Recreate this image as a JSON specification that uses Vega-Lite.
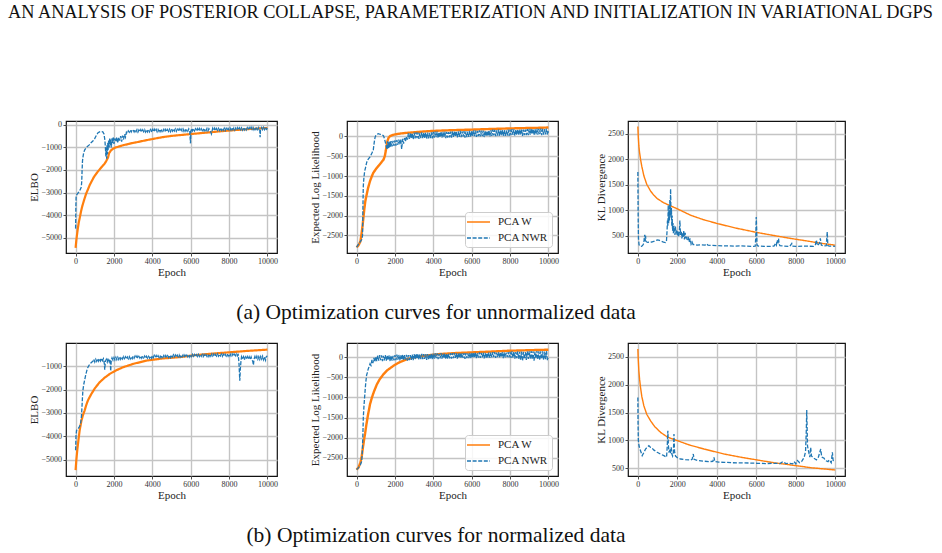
{
  "$schema": "https://vega.github.io/schema/vega-lite/v6.json",
  "background": "white",
  "padding": {"left": 8, "top": 2, "right": 10, "bottom": 5},
  "title": {"text": "AN ANALYSIS OF POSTERIOR COLLAPSE, PARAMETERIZATION AND INITIALIZATION IN VARIATIONAL DGPS", "anchor": "start", "frame": "group", "dx": -58, "offset": 98, "font": "Liberation Serif", "fontSize": 18.3, "fontWeight": "normal", "color": "#111"},
  "config": {
    "view": {"stroke": "#111", "strokeWidth": 1.2},
    "axis": {"domain": false, "grid": true, "gridColor": "#c4c4c4", "gridWidth": 1.4, "tickColor": "#222", "tickSize": 3, "tickWidth": 0.8, "labelFont": "Liberation Serif", "labelFontSize": 8, "labelColor": "#333", "labelPadding": 1.5, "labelFlush": false, "titleFont": "Liberation Serif", "titleFontSize": 11, "titleFontWeight": "normal", "titleColor": "#222", "titlePadding": 1},
    "legend": {"orient": "bottom-right", "offset": 6, "symbolType": "M-2.3,0H2.3", "symbolSize": 100, "symbolStrokeWidth": 1.5, "symbolOffset": 3.5, "labelOffset": 13.5, "labelFont": "Liberation Serif", "labelFontSize": 11, "labelColor": "#222", "fillColor": "rgba(255,255,255,0.85)", "strokeColor": "#cccccc", "cornerRadius": 3, "padding": 4, "rowPadding": 5},
    "line": {"clip": true}
  },
  "columns": 3,
  "spacing": {"row": 90, "column": 70},
  "bounds": "flush",
  "resolve": {"scale": {"color": "independent", "strokeDash": "independent", "x": "independent", "y": "independent"}, "legend": {"color": "independent", "strokeDash": "independent"}},
  "datasets": {
    "p1": [
      {"s":"PCA W","x":0,"y":-5450},{"s":"PCA W","x":40,"y":-5100},{"s":"PCA W","x":100,"y":-4700},{"s":"PCA W","x":160,"y":-4350},{"s":"PCA W","x":210,"y":-4150},{"s":"PCA W","x":280,"y":-3850},{"s":"PCA W","x":350,"y":-3600},{"s":"PCA W","x":420,"y":-3400},{"s":"PCA W","x":470,"y":-3260},{"s":"PCA W","x":550,"y":-3050},{"s":"PCA W","x":650,"y":-2850},{"s":"PCA W","x":730,"y":-2680},{"s":"PCA W","x":850,"y":-2480},{"s":"PCA W","x":950,"y":-2320},{"s":"PCA W","x":1080,"y":-2160},{"s":"PCA W","x":1200,"y":-2030},{"s":"PCA W","x":1300,"y":-1930},{"s":"PCA W","x":1400,"y":-1830},{"s":"PCA W","x":1515,"y":-1720},{"s":"PCA W","x":1600,"y":-1600},{"s":"PCA W","x":1690,"y":-1450},{"s":"PCA W","x":1750,"y":-1250},{"s":"PCA W","x":1850,"y":-1130},{"s":"PCA W","x":1950,"y":-1060},{"s":"PCA W","x":2100,"y":-1000},{"s":"PCA W","x":2300,"y":-950},{"s":"PCA W","x":2500,"y":-900},{"s":"PCA W","x":2750,"y":-850},{"s":"PCA W","x":3000,"y":-800},{"s":"PCA W","x":3250,"y":-760},{"s":"PCA W","x":3500,"y":-715},{"s":"PCA W","x":3750,"y":-670},{"s":"PCA W","x":4000,"y":-630},{"s":"PCA W","x":4500,"y":-550},{"s":"PCA W","x":5000,"y":-490},{"s":"PCA W","x":5500,"y":-450},{"s":"PCA W","x":6000,"y":-410},{"s":"PCA W","x":6500,"y":-370},{"s":"PCA W","x":7000,"y":-330},{"s":"PCA W","x":7500,"y":-290},{"s":"PCA W","x":8000,"y":-255},{"s":"PCA W","x":8500,"y":-220},{"s":"PCA W","x":9000,"y":-190},{"s":"PCA W","x":9500,"y":-165},{"s":"PCA W","x":10000,"y":-140},
      {"s":"PCA NWR","x":0,"y":-4600},{"s":"PCA NWR","x":15,"y":-3600},{"s":"PCA NWR","x":30,"y":-3150},{"s":"PCA NWR","x":60,"y":-3100},{"s":"PCA NWR","x":100,"y":-3050},{"s":"PCA NWR","x":150,"y":-3000},{"s":"PCA NWR","x":200,"y":-2950},{"s":"PCA NWR","x":250,"y":-2850},{"s":"PCA NWR","x":300,"y":-2750},{"s":"PCA NWR","x":320,"y":-2500},{"s":"PCA NWR","x":340,"y":-2000},{"s":"PCA NWR","x":360,"y":-1600},{"s":"PCA NWR","x":380,"y":-1450},{"s":"PCA NWR","x":420,"y":-1250},{"s":"PCA NWR","x":470,"y":-1120},{"s":"PCA NWR","x":560,"y":-1000},{"s":"PCA NWR","x":700,"y":-900},{"s":"PCA NWR","x":820,"y":-780},{"s":"PCA NWR","x":900,"y":-720},{"s":"PCA NWR","x":990,"y":-620},{"s":"PCA NWR","x":1080,"y":-470},{"s":"PCA NWR","x":1170,"y":-350},{"s":"PCA NWR","x":1250,"y":-310},{"s":"PCA NWR","x":1340,"y":-300},{"s":"PCA NWR","x":1420,"y":-310},{"s":"PCA NWR","x":1480,"y":-400},{"s":"PCA NWR","x":1530,"y":-700},{"s":"PCA NWR","x":1560,"y":-1100},{"s":"PCA NWR","x":1580,"y":-1400},{"s":"PCA NWR","x":1600,"y":-1000},{"s":"PCA NWR","x":1620,"y":-1500},{"s":"PCA NWR","x":1640,"y":-900},{"s":"PCA NWR","x":1660,"y":-1300},{"s":"PCA NWR","x":1680,"y":-800},{"s":"PCA NWR","x":1700,"y":-1100},{"s":"PCA NWR","x":1720,"y":-700},{"s":"PCA NWR","x":1750,"y":-1000},{"s":"PCA NWR","x":1780,"y":-600},{"s":"PCA NWR","x":1800,"y":-900},{"s":"PCA NWR","x":1830,"y":-650},{"s":"PCA NWR","x":1860,"y":-1000},{"s":"PCA NWR","x":1900,"y":-600},{"s":"PCA NWR","x":1930,"y":-800},{"s":"PCA NWR","x":1960,"y":-550},{"s":"PCA NWR","x":2000,"y":-850},{"s":"PCA NWR","x":2050,"y":-600},{"s":"PCA NWR","x":2100,"y":-750},{"s":"PCA NWR","x":2150,"y":-550},{"s":"PCA NWR","x":2200,"y":-800},{"s":"PCA NWR","x":2250,"y":-550},{"s":"PCA NWR","x":2300,"y":-700},{"s":"PCA NWR","x":2350,"y":-500},{"s":"PCA NWR","x":2400,"y":-750},{"s":"PCA NWR","x":2450,"y":-480},{"s":"PCA NWR","x":2500,"y":-650},{"s":"PCA NWR","x":2550,"y":-420},{"s":"PCA NWR","x":2600,"y":-550},{"s":"PCA NWR","x":2650,"y":-330},{"s":"PCA NWR","x":2700,"y":-380},{"s":"PCA NWR","x":2750,"y":-270},{"s":"PCA NWR","x":2800,"y":-330},{"s":"PCA NWR","x":2850,"y":-230},{"s":"PCA NWR","x":2900,"y":-320},{"s":"PCA NWR","x":2950,"y":-225},
      {"s":"PCA NWR","x":3000,"y":-220},{"s":"PCA NWR","x":3050,"y":-315},{"s":"PCA NWR","x":3100,"y":-210},{"s":"PCA NWR","x":3150,"y":-305},{"s":"PCA NWR","x":3200,"y":-215},{"s":"PCA NWR","x":3250,"y":-320},{"s":"PCA NWR","x":3300,"y":-225},{"s":"PCA NWR","x":3350,"y":-310},{"s":"PCA NWR","x":3400,"y":-210},{"s":"PCA NWR","x":3450,"y":-315},{"s":"PCA NWR","x":3500,"y":-220},{"s":"PCA NWR","x":3550,"y":-305},{"s":"PCA NWR","x":3600,"y":-215},{"s":"PCA NWR","x":3650,"y":-320},{"s":"PCA NWR","x":3700,"y":-220},{"s":"PCA NWR","x":3750,"y":-315},{"s":"PCA NWR","x":3800,"y":-225},{"s":"PCA NWR","x":3850,"y":-310},{"s":"PCA NWR","x":3900,"y":-210},{"s":"PCA NWR","x":3950,"y":-315},
      {"s":"PCA NWR","x":4000,"y":-205},{"s":"PCA NWR","x":4050,"y":-300},{"s":"PCA NWR","x":4100,"y":-195},{"s":"PCA NWR","x":4150,"y":-290},{"s":"PCA NWR","x":4200,"y":-200},{"s":"PCA NWR","x":4250,"y":-305},{"s":"PCA NWR","x":4300,"y":-210},{"s":"PCA NWR","x":4350,"y":-295},{"s":"PCA NWR","x":4400,"y":-195},{"s":"PCA NWR","x":4450,"y":-300},{"s":"PCA NWR","x":4500,"y":-205},{"s":"PCA NWR","x":4550,"y":-290},{"s":"PCA NWR","x":4600,"y":-200},{"s":"PCA NWR","x":4650,"y":-305},{"s":"PCA NWR","x":4700,"y":-205},{"s":"PCA NWR","x":4750,"y":-300},{"s":"PCA NWR","x":4800,"y":-210},{"s":"PCA NWR","x":4850,"y":-295},{"s":"PCA NWR","x":4900,"y":-195},{"s":"PCA NWR","x":4950,"y":-300},
      {"s":"PCA NWR","x":5000,"y":-187},{"s":"PCA NWR","x":5050,"y":-282},{"s":"PCA NWR","x":5100,"y":-177},{"s":"PCA NWR","x":5150,"y":-272},{"s":"PCA NWR","x":5200,"y":-182},{"s":"PCA NWR","x":5250,"y":-287},{"s":"PCA NWR","x":5300,"y":-192},{"s":"PCA NWR","x":5350,"y":-277},{"s":"PCA NWR","x":5400,"y":-177},{"s":"PCA NWR","x":5450,"y":-282},{"s":"PCA NWR","x":5500,"y":-187},{"s":"PCA NWR","x":5550,"y":-272},{"s":"PCA NWR","x":5600,"y":-182},{"s":"PCA NWR","x":5650,"y":-287},{"s":"PCA NWR","x":5700,"y":-187},{"s":"PCA NWR","x":5750,"y":-282},{"s":"PCA NWR","x":5800,"y":-192},{"s":"PCA NWR","x":5850,"y":-277},{"s":"PCA NWR","x":5900,"y":-177},{"s":"PCA NWR","x":5950,"y":-282},{"s":"PCA NWR","x":5990,"y":-820},{"s":"PCA NWR","x":6010,"y":-300},
      {"s":"PCA NWR","x":6050,"y":-160},{"s":"PCA NWR","x":6100,"y":-265},{"s":"PCA NWR","x":6150,"y":-175},{"s":"PCA NWR","x":6200,"y":-270},{"s":"PCA NWR","x":6250,"y":-175},{"s":"PCA NWR","x":6300,"y":-260},{"s":"PCA NWR","x":6350,"y":-170},{"s":"PCA NWR","x":6400,"y":-270},{"s":"PCA NWR","x":6450,"y":-160},{"s":"PCA NWR","x":6500,"y":-265},{"s":"PCA NWR","x":6550,"y":-170},{"s":"PCA NWR","x":6600,"y":-255},{"s":"PCA NWR","x":6650,"y":-165},{"s":"PCA NWR","x":6700,"y":-270},{"s":"PCA NWR","x":6750,"y":-175},{"s":"PCA NWR","x":6800,"y":-260},{"s":"PCA NWR","x":6850,"y":-160},{"s":"PCA NWR","x":6900,"y":-265},{"s":"PCA NWR","x":6950,"y":-170},{"s":"PCA NWR","x":7000,"y":-250},{"s":"PCA NWR","x":7040,"y":-300},{"s":"PCA NWR","x":7080,"y":-400},{"s":"PCA NWR","x":7120,"y":-260},
      {"s":"PCA NWR","x":7150,"y":-150},{"s":"PCA NWR","x":7200,"y":-238},{"s":"PCA NWR","x":7250,"y":-148},{"s":"PCA NWR","x":7300,"y":-253},{"s":"PCA NWR","x":7350,"y":-158},{"s":"PCA NWR","x":7400,"y":-243},{"s":"PCA NWR","x":7450,"y":-153},{"s":"PCA NWR","x":7500,"y":-248},{"s":"PCA NWR","x":7550,"y":-143},{"s":"PCA NWR","x":7600,"y":-248},{"s":"PCA NWR","x":7650,"y":-153},{"s":"PCA NWR","x":7700,"y":-238},{"s":"PCA NWR","x":7750,"y":-148},{"s":"PCA NWR","x":7800,"y":-253},{"s":"PCA NWR","x":7850,"y":-153},{"s":"PCA NWR","x":7900,"y":-248},{"s":"PCA NWR","x":7950,"y":-158},
      {"s":"PCA NWR","x":8000,"y":-225},{"s":"PCA NWR","x":8050,"y":-135},{"s":"PCA NWR","x":8100,"y":-230},{"s":"PCA NWR","x":8150,"y":-125},{"s":"PCA NWR","x":8200,"y":-220},{"s":"PCA NWR","x":8250,"y":-130},{"s":"PCA NWR","x":8300,"y":-235},{"s":"PCA NWR","x":8350,"y":-140},{"s":"PCA NWR","x":8400,"y":-225},{"s":"PCA NWR","x":8450,"y":-125},{"s":"PCA NWR","x":8500,"y":-230},{"s":"PCA NWR","x":8550,"y":-135},{"s":"PCA NWR","x":8600,"y":-220},{"s":"PCA NWR","x":8650,"y":-130},{"s":"PCA NWR","x":8700,"y":-235},{"s":"PCA NWR","x":8750,"y":-135},{"s":"PCA NWR","x":8800,"y":-230},{"s":"PCA NWR","x":8850,"y":-140},{"s":"PCA NWR","x":8900,"y":-225},{"s":"PCA NWR","x":8950,"y":-125},
      {"s":"PCA NWR","x":9000,"y":-212},{"s":"PCA NWR","x":9050,"y":-117},{"s":"PCA NWR","x":9100,"y":-207},{"s":"PCA NWR","x":9150,"y":-107},{"s":"PCA NWR","x":9200,"y":-202},{"s":"PCA NWR","x":9250,"y":-112},{"s":"PCA NWR","x":9300,"y":-217},{"s":"PCA NWR","x":9350,"y":-122},{"s":"PCA NWR","x":9400,"y":-207},{"s":"PCA NWR","x":9450,"y":-107},{"s":"PCA NWR","x":9500,"y":-212},{"s":"PCA NWR","x":9550,"y":-117},{"s":"PCA NWR","x":9600,"y":-200},{"s":"PCA NWR","x":9620,"y":-550},{"s":"PCA NWR","x":9640,"y":-210},{"s":"PCA NWR","x":9700,"y":-117},{"s":"PCA NWR","x":9750,"y":-212},{"s":"PCA NWR","x":9800,"y":-112},{"s":"PCA NWR","x":9850,"y":-207},{"s":"PCA NWR","x":9900,"y":-107},{"s":"PCA NWR","x":9950,"y":-200},{"s":"PCA NWR","x":10000,"y":-150}
    ],
    "p2": [
      {"s":"PCA W","x":0,"y":-2800},{"s":"PCA W","x":100,"y":-2750},{"s":"PCA W","x":200,"y":-2650},{"s":"PCA W","x":260,"y":-2450},{"s":"PCA W","x":300,"y":-2300},{"s":"PCA W","x":350,"y":-2080},{"s":"PCA W","x":400,"y":-1850},{"s":"PCA W","x":450,"y":-1650},{"s":"PCA W","x":520,"y":-1480},{"s":"PCA W","x":600,"y":-1300},{"s":"PCA W","x":700,"y":-1130},{"s":"PCA W","x":800,"y":-1000},{"s":"PCA W","x":870,"y":-920},{"s":"PCA W","x":1000,"y":-830},{"s":"PCA W","x":1130,"y":-750},{"s":"PCA W","x":1250,"y":-680},{"s":"PCA W","x":1400,"y":-590},{"s":"PCA W","x":1470,"y":-500},{"s":"PCA W","x":1520,"y":-370},{"s":"PCA W","x":1560,"y":-250},{"s":"PCA W","x":1600,"y":-130},{"s":"PCA W","x":1660,"y":-40},{"s":"PCA W","x":1750,"y":10},{"s":"PCA W","x":1900,"y":40},{"s":"PCA W","x":2100,"y":60},{"s":"PCA W","x":2300,"y":75},{"s":"PCA W","x":2600,"y":90},{"s":"PCA W","x":3000,"y":105},{"s":"PCA W","x":3500,"y":125},{"s":"PCA W","x":4000,"y":140},{"s":"PCA W","x":4500,"y":150},{"s":"PCA W","x":5000,"y":158},{"s":"PCA W","x":5500,"y":165},{"s":"PCA W","x":6000,"y":172},{"s":"PCA W","x":6500,"y":180},{"s":"PCA W","x":7000,"y":188},{"s":"PCA W","x":7500,"y":195},{"s":"PCA W","x":8000,"y":202},{"s":"PCA W","x":8500,"y":208},{"s":"PCA W","x":9000,"y":213},{"s":"PCA W","x":9500,"y":218},{"s":"PCA W","x":10000,"y":225},
      {"s":"PCA NWR","x":0,"y":-2800},{"s":"PCA NWR","x":100,"y":-2720},{"s":"PCA NWR","x":200,"y":-2650},{"s":"PCA NWR","x":280,"y":-2600},{"s":"PCA NWR","x":310,"y":-2500},{"s":"PCA NWR","x":330,"y":-1800},{"s":"PCA NWR","x":350,"y":-1250},{"s":"PCA NWR","x":380,"y":-1050},{"s":"PCA NWR","x":420,"y":-880},{"s":"PCA NWR","x":470,"y":-780},{"s":"PCA NWR","x":530,"y":-650},{"s":"PCA NWR","x":600,"y":-580},{"s":"PCA NWR","x":700,"y":-520},{"s":"PCA NWR","x":800,"y":-420},{"s":"PCA NWR","x":870,"y":-340},{"s":"PCA NWR","x":920,"y":-150},{"s":"PCA NWR","x":960,"y":-30},{"s":"PCA NWR","x":1000,"y":20},{"s":"PCA NWR","x":1050,"y":50},{"s":"PCA NWR","x":1130,"y":70},{"s":"PCA NWR","x":1200,"y":60},{"s":"PCA NWR","x":1300,"y":50},{"s":"PCA NWR","x":1400,"y":20},{"s":"PCA NWR","x":1450,"y":-50},{"s":"PCA NWR","x":1500,"y":-150},{"s":"PCA NWR","x":1550,"y":-260},{"s":"PCA NWR","x":1600,"y":-330},{"s":"PCA NWR","x":1620,"y":-120},{"s":"PCA NWR","x":1650,"y":-300},{"s":"PCA NWR","x":1680,"y":-150},{"s":"PCA NWR","x":1710,"y":-280},{"s":"PCA NWR","x":1740,"y":-130},{"s":"PCA NWR","x":1770,"y":-260},{"s":"PCA NWR","x":1800,"y":-120},{"s":"PCA NWR","x":1850,"y":-250},{"s":"PCA NWR","x":1900,"y":-110},{"s":"PCA NWR","x":1950,"y":-240},{"s":"PCA NWR","x":2000,"y":-100},{"s":"PCA NWR","x":2050,"y":-230},{"s":"PCA NWR","x":2100,"y":-90},{"s":"PCA NWR","x":2150,"y":-210},{"s":"PCA NWR","x":2200,"y":-80},{"s":"PCA NWR","x":2250,"y":-200},{"s":"PCA NWR","x":2300,"y":-70},{"s":"PCA NWR","x":2350,"y":-320},{"s":"PCA NWR","x":2400,"y":-60},{"s":"PCA NWR","x":2450,"y":-180},{"s":"PCA NWR","x":2500,"y":-40},{"s":"PCA NWR","x":2550,"y":-120},{"s":"PCA NWR","x":2600,"y":0},{"s":"PCA NWR","x":2650,"y":-80},
      {"s":"PCA NWR","x":2700,"y":80},{"s":"PCA NWR","x":2750,"y":-65},{"s":"PCA NWR","x":2800,"y":90},{"s":"PCA NWR","x":2850,"y":-55},{"s":"PCA NWR","x":2900,"y":85},{"s":"PCA NWR","x":2950,"y":-75},
      {"s":"PCA NWR","x":3000,"y":95},{"s":"PCA NWR","x":3050,"y":-50},{"s":"PCA NWR","x":3100,"y":105},{"s":"PCA NWR","x":3150,"y":-40},{"s":"PCA NWR","x":3200,"y":100},{"s":"PCA NWR","x":3250,"y":-60},{"s":"PCA NWR","x":3300,"y":90},{"s":"PCA NWR","x":3350,"y":-45},{"s":"PCA NWR","x":3400,"y":105},{"s":"PCA NWR","x":3450,"y":-50},{"s":"PCA NWR","x":3500,"y":95},{"s":"PCA NWR","x":3550,"y":-40},{"s":"PCA NWR","x":3600,"y":100},{"s":"PCA NWR","x":3650,"y":-65},{"s":"PCA NWR","x":3700,"y":95},{"s":"PCA NWR","x":3750,"y":-50},{"s":"PCA NWR","x":3800,"y":90},{"s":"PCA NWR","x":3850,"y":-45},{"s":"PCA NWR","x":3900,"y":105},{"s":"PCA NWR","x":3950,"y":-50},
      {"s":"PCA NWR","x":4000,"y":115},{"s":"PCA NWR","x":4050,"y":-30},{"s":"PCA NWR","x":4100,"y":125},{"s":"PCA NWR","x":4150,"y":-20},{"s":"PCA NWR","x":4200,"y":120},{"s":"PCA NWR","x":4250,"y":-40},{"s":"PCA NWR","x":4300,"y":110},{"s":"PCA NWR","x":4350,"y":-25},{"s":"PCA NWR","x":4400,"y":125},{"s":"PCA NWR","x":4450,"y":-30},{"s":"PCA NWR","x":4500,"y":115},{"s":"PCA NWR","x":4550,"y":-20},{"s":"PCA NWR","x":4600,"y":120},{"s":"PCA NWR","x":4650,"y":-45},{"s":"PCA NWR","x":4700,"y":115},{"s":"PCA NWR","x":4750,"y":-30},{"s":"PCA NWR","x":4800,"y":110},{"s":"PCA NWR","x":4850,"y":-25},{"s":"PCA NWR","x":4900,"y":125},{"s":"PCA NWR","x":4950,"y":-30},
      {"s":"PCA NWR","x":5000,"y":130},{"s":"PCA NWR","x":5050,"y":-15},{"s":"PCA NWR","x":5100,"y":140},{"s":"PCA NWR","x":5150,"y":-5},{"s":"PCA NWR","x":5200,"y":135},{"s":"PCA NWR","x":5250,"y":-25},{"s":"PCA NWR","x":5300,"y":125},{"s":"PCA NWR","x":5350,"y":-10},{"s":"PCA NWR","x":5400,"y":140},{"s":"PCA NWR","x":5450,"y":-15},{"s":"PCA NWR","x":5500,"y":130},{"s":"PCA NWR","x":5550,"y":-5},{"s":"PCA NWR","x":5600,"y":135},{"s":"PCA NWR","x":5650,"y":-30},{"s":"PCA NWR","x":5700,"y":130},{"s":"PCA NWR","x":5750,"y":-15},{"s":"PCA NWR","x":5800,"y":125},{"s":"PCA NWR","x":5850,"y":-10},{"s":"PCA NWR","x":5900,"y":140},{"s":"PCA NWR","x":5950,"y":-15},
      {"s":"PCA NWR","x":6000,"y":145},{"s":"PCA NWR","x":6050,"y":0},{"s":"PCA NWR","x":6100,"y":155},{"s":"PCA NWR","x":6150,"y":10},{"s":"PCA NWR","x":6200,"y":150},{"s":"PCA NWR","x":6250,"y":-10},{"s":"PCA NWR","x":6300,"y":140},{"s":"PCA NWR","x":6350,"y":5},{"s":"PCA NWR","x":6400,"y":155},{"s":"PCA NWR","x":6450,"y":0},{"s":"PCA NWR","x":6500,"y":145},{"s":"PCA NWR","x":6550,"y":10},{"s":"PCA NWR","x":6600,"y":150},{"s":"PCA NWR","x":6650,"y":-15},{"s":"PCA NWR","x":6700,"y":145},{"s":"PCA NWR","x":6750,"y":0},{"s":"PCA NWR","x":6800,"y":140},{"s":"PCA NWR","x":6850,"y":5},{"s":"PCA NWR","x":6900,"y":155},{"s":"PCA NWR","x":6950,"y":0},
      {"s":"PCA NWR","x":7000,"y":160},{"s":"PCA NWR","x":7050,"y":15},{"s":"PCA NWR","x":7100,"y":170},{"s":"PCA NWR","x":7150,"y":25},{"s":"PCA NWR","x":7200,"y":165},{"s":"PCA NWR","x":7250,"y":5},{"s":"PCA NWR","x":7300,"y":155},{"s":"PCA NWR","x":7350,"y":20},{"s":"PCA NWR","x":7400,"y":170},{"s":"PCA NWR","x":7450,"y":15},{"s":"PCA NWR","x":7500,"y":160},{"s":"PCA NWR","x":7550,"y":25},{"s":"PCA NWR","x":7600,"y":165},{"s":"PCA NWR","x":7650,"y":0},{"s":"PCA NWR","x":7700,"y":160},{"s":"PCA NWR","x":7750,"y":15},{"s":"PCA NWR","x":7800,"y":155},{"s":"PCA NWR","x":7850,"y":20},{"s":"PCA NWR","x":7900,"y":170},{"s":"PCA NWR","x":7950,"y":15},
      {"s":"PCA NWR","x":8000,"y":175},{"s":"PCA NWR","x":8050,"y":30},{"s":"PCA NWR","x":8100,"y":185},{"s":"PCA NWR","x":8150,"y":40},{"s":"PCA NWR","x":8200,"y":180},{"s":"PCA NWR","x":8250,"y":20},{"s":"PCA NWR","x":8300,"y":170},{"s":"PCA NWR","x":8350,"y":35},{"s":"PCA NWR","x":8400,"y":185},{"s":"PCA NWR","x":8450,"y":30},{"s":"PCA NWR","x":8500,"y":175},{"s":"PCA NWR","x":8550,"y":40},{"s":"PCA NWR","x":8600,"y":180},{"s":"PCA NWR","x":8650,"y":15},{"s":"PCA NWR","x":8700,"y":175},{"s":"PCA NWR","x":8750,"y":30},{"s":"PCA NWR","x":8800,"y":170},{"s":"PCA NWR","x":8850,"y":35},{"s":"PCA NWR","x":8900,"y":185},{"s":"PCA NWR","x":8950,"y":30},
      {"s":"PCA NWR","x":9000,"y":190},{"s":"PCA NWR","x":9050,"y":45},{"s":"PCA NWR","x":9100,"y":200},{"s":"PCA NWR","x":9150,"y":55},{"s":"PCA NWR","x":9200,"y":195},{"s":"PCA NWR","x":9250,"y":35},{"s":"PCA NWR","x":9300,"y":185},{"s":"PCA NWR","x":9350,"y":50},{"s":"PCA NWR","x":9400,"y":200},{"s":"PCA NWR","x":9450,"y":45},{"s":"PCA NWR","x":9500,"y":190},{"s":"PCA NWR","x":9550,"y":55},{"s":"PCA NWR","x":9600,"y":195},{"s":"PCA NWR","x":9650,"y":30},{"s":"PCA NWR","x":9700,"y":190},{"s":"PCA NWR","x":9750,"y":45},{"s":"PCA NWR","x":9800,"y":185},{"s":"PCA NWR","x":9850,"y":50},{"s":"PCA NWR","x":9900,"y":200},{"s":"PCA NWR","x":9950,"y":45},{"s":"PCA NWR","x":10000,"y":130}
    ],
    "p3": [
      {"s":"PCA W","x":0,"y":2640},{"s":"PCA W","x":20,"y":2450},{"s":"PCA W","x":50,"y":2260},{"s":"PCA W","x":90,"y":2120},{"s":"PCA W","x":135,"y":2000},{"s":"PCA W","x":200,"y":1860},{"s":"PCA W","x":305,"y":1675},{"s":"PCA W","x":450,"y":1510},{"s":"PCA W","x":640,"y":1380},{"s":"PCA W","x":800,"y":1300},{"s":"PCA W","x":980,"y":1230},{"s":"PCA W","x":1300,"y":1150},{"s":"PCA W","x":1660,"y":1087},{"s":"PCA W","x":2000,"y":1030},{"s":"PCA W","x":2670,"y":905},{"s":"PCA W","x":3300,"y":820},{"s":"PCA W","x":4030,"y":741},{"s":"PCA W","x":5000,"y":650},{"s":"PCA W","x":6060,"y":565},{"s":"PCA W","x":7000,"y":500},{"s":"PCA W","x":7750,"y":450},{"s":"PCA W","x":8500,"y":405},{"s":"PCA W","x":9200,"y":360},{"s":"PCA W","x":10000,"y":318},
      {"s":"PCA NWR","x":0,"y":1750},{"s":"PCA NWR","x":15,"y":900},{"s":"PCA NWR","x":30,"y":450},{"s":"PCA NWR","x":60,"y":330},{"s":"PCA NWR","x":100,"y":300},{"s":"PCA NWR","x":150,"y":295},{"s":"PCA NWR","x":200,"y":300},{"s":"PCA NWR","x":250,"y":320},{"s":"PCA NWR","x":300,"y":350},{"s":"PCA NWR","x":330,"y":480},{"s":"PCA NWR","x":350,"y":520},{"s":"PCA NWR","x":370,"y":400},{"s":"PCA NWR","x":390,"y":500},{"s":"PCA NWR","x":410,"y":390},{"s":"PCA NWR","x":450,"y":380},{"s":"PCA NWR","x":500,"y":375},{"s":"PCA NWR","x":600,"y":375},{"s":"PCA NWR","x":700,"y":380},{"s":"PCA NWR","x":800,"y":390},{"s":"PCA NWR","x":900,"y":410},{"s":"PCA NWR","x":1000,"y":420},{"s":"PCA NWR","x":1100,"y":410},{"s":"PCA NWR","x":1200,"y":395},{"s":"PCA NWR","x":1300,"y":380},{"s":"PCA NWR","x":1400,"y":370},{"s":"PCA NWR","x":1450,"y":400},{"s":"PCA NWR","x":1480,"y":600},{"s":"PCA NWR","x":1500,"y":800},{"s":"PCA NWR","x":1520,"y":700},{"s":"PCA NWR","x":1540,"y":1100},{"s":"PCA NWR","x":1560,"y":750},{"s":"PCA NWR","x":1580,"y":1000},{"s":"PCA NWR","x":1600,"y":800},{"s":"PCA NWR","x":1620,"y":1200},{"s":"PCA NWR","x":1640,"y":900},{"s":"PCA NWR","x":1660,"y":1420},{"s":"PCA NWR","x":1680,"y":850},{"s":"PCA NWR","x":1700,"y":1050},{"s":"PCA NWR","x":1720,"y":700},{"s":"PCA NWR","x":1740,"y":900},{"s":"PCA NWR","x":1760,"y":600},{"s":"PCA NWR","x":1780,"y":750},{"s":"PCA NWR","x":1800,"y":550},{"s":"PCA NWR","x":1820,"y":700},{"s":"PCA NWR","x":1840,"y":580},{"s":"PCA NWR","x":1860,"y":650},{"s":"PCA NWR","x":1880,"y":520},{"s":"PCA NWR","x":1900,"y":700},{"s":"PCA NWR","x":1930,"y":550},{"s":"PCA NWR","x":1960,"y":620},{"s":"PCA NWR","x":2000,"y":500},{"s":"PCA NWR","x":2030,"y":600},{"s":"PCA NWR","x":2060,"y":480},{"s":"PCA NWR","x":2100,"y":560},{"s":"PCA NWR","x":2130,"y":800},{"s":"PCA NWR","x":2160,"y":520},{"s":"PCA NWR","x":2200,"y":600},{"s":"PCA NWR","x":2230,"y":450},{"s":"PCA NWR","x":2270,"y":550},{"s":"PCA NWR","x":2300,"y":480},{"s":"PCA NWR","x":2330,"y":600},{"s":"PCA NWR","x":2360,"y":430},{"s":"PCA NWR","x":2400,"y":560},{"s":"PCA NWR","x":2430,"y":450},{"s":"PCA NWR","x":2460,"y":500},{"s":"PCA NWR","x":2500,"y":420},{"s":"PCA NWR","x":2550,"y":480},{"s":"PCA NWR","x":2600,"y":380},{"s":"PCA NWR","x":2650,"y":450},{"s":"PCA NWR","x":2700,"y":340},{"s":"PCA NWR","x":2750,"y":380},{"s":"PCA NWR","x":2800,"y":330},{"s":"PCA NWR","x":2900,"y":330},{"s":"PCA NWR","x":3000,"y":320},{"s":"PCA NWR","x":3200,"y":325},{"s":"PCA NWR","x":3400,"y":320},{"s":"PCA NWR","x":3500,"y":345},{"s":"PCA NWR","x":3550,"y":320},{"s":"PCA NWR","x":3700,"y":315},{"s":"PCA NWR","x":4000,"y":310},{"s":"PCA NWR","x":4300,"y":305},{"s":"PCA NWR","x":4600,"y":305},{"s":"PCA NWR","x":4900,"y":300},{"s":"PCA NWR","x":5200,"y":305},{"s":"PCA NWR","x":5500,"y":300},{"s":"PCA NWR","x":5800,"y":295},{"s":"PCA NWR","x":5950,"y":300},{"s":"PCA NWR","x":5980,"y":500},{"s":"PCA NWR","x":6000,"y":870},{"s":"PCA NWR","x":6020,"y":650},{"s":"PCA NWR","x":6040,"y":320},{"s":"PCA NWR","x":6100,"y":300},{"s":"PCA NWR","x":6400,"y":295},{"s":"PCA NWR","x":6700,"y":295},{"s":"PCA NWR","x":6900,"y":300},{"s":"PCA NWR","x":6980,"y":350},{"s":"PCA NWR","x":7020,"y":320},{"s":"PCA NWR","x":7060,"y":420},{"s":"PCA NWR","x":7100,"y":380},{"s":"PCA NWR","x":7130,"y":450},{"s":"PCA NWR","x":7160,"y":340},{"s":"PCA NWR","x":7200,"y":310},{"s":"PCA NWR","x":7400,"y":300},{"s":"PCA NWR","x":7700,"y":295},{"s":"PCA NWR","x":7800,"y":350},{"s":"PCA NWR","x":7830,"y":300},{"s":"PCA NWR","x":8000,"y":295},{"s":"PCA NWR","x":8500,"y":300},{"s":"PCA NWR","x":8900,"y":295},{"s":"PCA NWR","x":9000,"y":330},{"s":"PCA NWR","x":9050,"y":420},{"s":"PCA NWR","x":9100,"y":310},{"s":"PCA NWR","x":9200,"y":350},{"s":"PCA NWR","x":9250,"y":450},{"s":"PCA NWR","x":9300,"y":320},{"s":"PCA NWR","x":9400,"y":300},{"s":"PCA NWR","x":9550,"y":310},{"s":"PCA NWR","x":9600,"y":580},{"s":"PCA NWR","x":9630,"y":310},{"s":"PCA NWR","x":9700,"y":300},{"s":"PCA NWR","x":9850,"y":300},{"s":"PCA NWR","x":10000,"y":295}
    ],
    "p4": [
      {"s":"PCA W","x":0,"y":-5450},{"s":"PCA W","x":40,"y":-5000},{"s":"PCA W","x":100,"y":-4500},{"s":"PCA W","x":150,"y":-4150},{"s":"PCA W","x":210,"y":-3760},{"s":"PCA W","x":300,"y":-3350},{"s":"PCA W","x":380,"y":-3100},{"s":"PCA W","x":470,"y":-2900},{"s":"PCA W","x":560,"y":-2650},{"s":"PCA W","x":650,"y":-2450},{"s":"PCA W","x":820,"y":-2190},{"s":"PCA W","x":1000,"y":-1950},{"s":"PCA W","x":1250,"y":-1690},{"s":"PCA W","x":1500,"y":-1500},{"s":"PCA W","x":1780,"y":-1330},{"s":"PCA W","x":2100,"y":-1180},{"s":"PCA W","x":2470,"y":-1045},{"s":"PCA W","x":3000,"y":-900},{"s":"PCA W","x":3690,"y":-760},{"s":"PCA W","x":4500,"y":-670},{"s":"PCA W","x":5430,"y":-610},{"s":"PCA W","x":6300,"y":-520},{"s":"PCA W","x":7000,"y":-470},{"s":"PCA W","x":8050,"y":-400},{"s":"PCA W","x":9000,"y":-340},{"s":"PCA W","x":10000,"y":-290},
      {"s":"PCA NWR","x":0,"y":-4600},{"s":"PCA NWR","x":20,"y":-4000},{"s":"PCA NWR","x":50,"y":-3750},{"s":"PCA NWR","x":100,"y":-3700},{"s":"PCA NWR","x":150,"y":-3650},{"s":"PCA NWR","x":210,"y":-3580},{"s":"PCA NWR","x":260,"y":-3450},{"s":"PCA NWR","x":300,"y":-3200},{"s":"PCA NWR","x":330,"y":-2800},{"s":"PCA NWR","x":360,"y":-2300},{"s":"PCA NWR","x":380,"y":-2050},{"s":"PCA NWR","x":420,"y":-1800},{"s":"PCA NWR","x":470,"y":-1600},{"s":"PCA NWR","x":520,"y":-1400},{"s":"PCA NWR","x":580,"y":-1200},{"s":"PCA NWR","x":640,"y":-1050},{"s":"PCA NWR","x":700,"y":-960},{"s":"PCA NWR","x":760,"y":-900},{"s":"PCA NWR","x":820,"y":-840},{"s":"PCA NWR","x":900,"y":-790},{"s":"PCA NWR","x":950,"y":-700},{"s":"PCA NWR","x":1000,"y":-820},{"s":"PCA NWR","x":1050,"y":-700},{"s":"PCA NWR","x":1100,"y":-790},{"s":"PCA NWR","x":1150,"y":-680},{"s":"PCA NWR","x":1200,"y":-780},{"s":"PCA NWR","x":1250,"y":-670},{"s":"PCA NWR","x":1300,"y":-770},{"s":"PCA NWR","x":1350,"y":-660},{"s":"PCA NWR","x":1400,"y":-760},{"s":"PCA NWR","x":1450,"y":-680},{"s":"PCA NWR","x":1500,"y":-900},{"s":"PCA NWR","x":1520,"y":-1150},{"s":"PCA NWR","x":1550,"y":-800},{"s":"PCA NWR","x":1600,"y":-700},{"s":"PCA NWR","x":1650,"y":-820},{"s":"PCA NWR","x":1700,"y":-660},{"s":"PCA NWR","x":1750,"y":-800},{"s":"PCA NWR","x":1800,"y":-700},{"s":"PCA NWR","x":1830,"y":-1200},{"s":"PCA NWR","x":1860,"y":-750},{"s":"PCA NWR","x":1900,"y":-640},{"s":"PCA NWR","x":1950,"y":-740},{"s":"PCA NWR","x":2000,"y":-630},{"s":"PCA NWR","x":2050,"y":-730},{"s":"PCA NWR","x":2100,"y":-620},{"s":"PCA NWR","x":2150,"y":-720},{"s":"PCA NWR","x":2200,"y":-615},{"s":"PCA NWR","x":2250,"y":-710},{"s":"PCA NWR","x":2300,"y":-600},{"s":"PCA NWR","x":2350,"y":-700},
      {"s":"PCA NWR","x":2400,"y":-600},{"s":"PCA NWR","x":2450,"y":-685},{"s":"PCA NWR","x":2500,"y":-590},{"s":"PCA NWR","x":2550,"y":-675},{"s":"PCA NWR","x":2600,"y":-595},{"s":"PCA NWR","x":2650,"y":-690},{"s":"PCA NWR","x":2700,"y":-605},{"s":"PCA NWR","x":2750,"y":-680},{"s":"PCA NWR","x":2800,"y":-590},{"s":"PCA NWR","x":2850,"y":-685},{"s":"PCA NWR","x":2900,"y":-600},{"s":"PCA NWR","x":2950,"y":-675},
      {"s":"PCA NWR","x":3000,"y":-570},{"s":"PCA NWR","x":3050,"y":-655},{"s":"PCA NWR","x":3100,"y":-560},{"s":"PCA NWR","x":3150,"y":-645},{"s":"PCA NWR","x":3200,"y":-565},{"s":"PCA NWR","x":3250,"y":-660},{"s":"PCA NWR","x":3300,"y":-575},{"s":"PCA NWR","x":3350,"y":-650},{"s":"PCA NWR","x":3400,"y":-560},{"s":"PCA NWR","x":3450,"y":-655},{"s":"PCA NWR","x":3500,"y":-570},{"s":"PCA NWR","x":3550,"y":-645},{"s":"PCA NWR","x":3600,"y":-565},{"s":"PCA NWR","x":3650,"y":-660},{"s":"PCA NWR","x":3700,"y":-570},{"s":"PCA NWR","x":3750,"y":-655},{"s":"PCA NWR","x":3800,"y":-575},{"s":"PCA NWR","x":3850,"y":-650},{"s":"PCA NWR","x":3900,"y":-560},{"s":"PCA NWR","x":3950,"y":-655},
      {"s":"PCA NWR","x":4000,"y":-545},{"s":"PCA NWR","x":4050,"y":-630},{"s":"PCA NWR","x":4100,"y":-535},{"s":"PCA NWR","x":4150,"y":-620},{"s":"PCA NWR","x":4200,"y":-540},{"s":"PCA NWR","x":4250,"y":-635},{"s":"PCA NWR","x":4300,"y":-550},{"s":"PCA NWR","x":4350,"y":-625},{"s":"PCA NWR","x":4400,"y":-535},{"s":"PCA NWR","x":4450,"y":-630},{"s":"PCA NWR","x":4500,"y":-545},{"s":"PCA NWR","x":4550,"y":-620},{"s":"PCA NWR","x":4600,"y":-540},{"s":"PCA NWR","x":4650,"y":-635},{"s":"PCA NWR","x":4700,"y":-545},{"s":"PCA NWR","x":4750,"y":-630},{"s":"PCA NWR","x":4800,"y":-550},{"s":"PCA NWR","x":4850,"y":-625},{"s":"PCA NWR","x":4900,"y":-535},{"s":"PCA NWR","x":4950,"y":-630},
      {"s":"PCA NWR","x":5000,"y":-520},{"s":"PCA NWR","x":5050,"y":-605},{"s":"PCA NWR","x":5100,"y":-510},{"s":"PCA NWR","x":5150,"y":-595},{"s":"PCA NWR","x":5200,"y":-515},{"s":"PCA NWR","x":5250,"y":-610},{"s":"PCA NWR","x":5300,"y":-525},{"s":"PCA NWR","x":5350,"y":-600},{"s":"PCA NWR","x":5400,"y":-510},{"s":"PCA NWR","x":5450,"y":-605},{"s":"PCA NWR","x":5500,"y":-520},{"s":"PCA NWR","x":5550,"y":-595},{"s":"PCA NWR","x":5600,"y":-515},{"s":"PCA NWR","x":5650,"y":-610},{"s":"PCA NWR","x":5700,"y":-520},{"s":"PCA NWR","x":5750,"y":-605},{"s":"PCA NWR","x":5800,"y":-525},{"s":"PCA NWR","x":5850,"y":-600},{"s":"PCA NWR","x":5900,"y":-510},{"s":"PCA NWR","x":5950,"y":-605},
      {"s":"PCA NWR","x":6000,"y":-500},{"s":"PCA NWR","x":6050,"y":-585},{"s":"PCA NWR","x":6100,"y":-490},{"s":"PCA NWR","x":6150,"y":-575},{"s":"PCA NWR","x":6200,"y":-495},{"s":"PCA NWR","x":6250,"y":-590},{"s":"PCA NWR","x":6300,"y":-505},{"s":"PCA NWR","x":6350,"y":-580},{"s":"PCA NWR","x":6400,"y":-490},{"s":"PCA NWR","x":6450,"y":-585},{"s":"PCA NWR","x":6500,"y":-500},{"s":"PCA NWR","x":6550,"y":-575},{"s":"PCA NWR","x":6600,"y":-495},{"s":"PCA NWR","x":6650,"y":-590},{"s":"PCA NWR","x":6700,"y":-500},{"s":"PCA NWR","x":6750,"y":-585},{"s":"PCA NWR","x":6800,"y":-505},{"s":"PCA NWR","x":6850,"y":-580},{"s":"PCA NWR","x":6900,"y":-490},{"s":"PCA NWR","x":6950,"y":-585},
      {"s":"PCA NWR","x":7000,"y":-485},{"s":"PCA NWR","x":7050,"y":-570},{"s":"PCA NWR","x":7100,"y":-475},{"s":"PCA NWR","x":7150,"y":-560},{"s":"PCA NWR","x":7200,"y":-480},{"s":"PCA NWR","x":7250,"y":-575},{"s":"PCA NWR","x":7300,"y":-490},{"s":"PCA NWR","x":7350,"y":-565},{"s":"PCA NWR","x":7400,"y":-475},{"s":"PCA NWR","x":7450,"y":-570},{"s":"PCA NWR","x":7500,"y":-485},{"s":"PCA NWR","x":7550,"y":-560},{"s":"PCA NWR","x":7600,"y":-480},{"s":"PCA NWR","x":7650,"y":-575},{"s":"PCA NWR","x":7700,"y":-485},{"s":"PCA NWR","x":7750,"y":-570},{"s":"PCA NWR","x":7800,"y":-490},{"s":"PCA NWR","x":7850,"y":-565},{"s":"PCA NWR","x":7900,"y":-475},{"s":"PCA NWR","x":7950,"y":-570},
      {"s":"PCA NWR","x":8000,"y":-475},{"s":"PCA NWR","x":8050,"y":-560},{"s":"PCA NWR","x":8100,"y":-465},{"s":"PCA NWR","x":8150,"y":-550},{"s":"PCA NWR","x":8200,"y":-470},{"s":"PCA NWR","x":8250,"y":-565},{"s":"PCA NWR","x":8300,"y":-480},{"s":"PCA NWR","x":8350,"y":-555},{"s":"PCA NWR","x":8400,"y":-470},{"s":"PCA NWR","x":8450,"y":-560},{"s":"PCA NWR","x":8480,"y":-520},{"s":"PCA NWR","x":8520,"y":-900},{"s":"PCA NWR","x":8560,"y":-1620},{"s":"PCA NWR","x":8590,"y":-1100},{"s":"PCA NWR","x":8620,"y":-800},
      {"s":"PCA NWR","x":8650,"y":-600},{"s":"PCA NWR","x":8700,"y":-700},{"s":"PCA NWR","x":8750,"y":-590},{"s":"PCA NWR","x":8800,"y":-720},{"s":"PCA NWR","x":8850,"y":-600},{"s":"PCA NWR","x":8900,"y":-690},{"s":"PCA NWR","x":8950,"y":-585},{"s":"PCA NWR","x":9000,"y":-700},{"s":"PCA NWR","x":9050,"y":-595},{"s":"PCA NWR","x":9100,"y":-710},{"s":"PCA NWR","x":9150,"y":-600},{"s":"PCA NWR","x":9200,"y":-720},{"s":"PCA NWR","x":9240,"y":-800},{"s":"PCA NWR","x":9270,"y":-950},{"s":"PCA NWR","x":9300,"y":-700},{"s":"PCA NWR","x":9350,"y":-580},{"s":"PCA NWR","x":9400,"y":-690},{"s":"PCA NWR","x":9450,"y":-575},{"s":"PCA NWR","x":9500,"y":-700},{"s":"PCA NWR","x":9550,"y":-590},{"s":"PCA NWR","x":9600,"y":-710},{"s":"PCA NWR","x":9650,"y":-580},{"s":"PCA NWR","x":9700,"y":-690},{"s":"PCA NWR","x":9750,"y":-570},{"s":"PCA NWR","x":9800,"y":-720},{"s":"PCA NWR","x":9850,"y":-585},{"s":"PCA NWR","x":9900,"y":-740},{"s":"PCA NWR","x":9950,"y":-580},{"s":"PCA NWR","x":10000,"y":-560}
    ],
    "p5": [
      {"s":"PCA W","x":0,"y":-2800},{"s":"PCA W","x":100,"y":-2750},{"s":"PCA W","x":200,"y":-2620},{"s":"PCA W","x":260,"y":-2500},{"s":"PCA W","x":330,"y":-2250},{"s":"PCA W","x":400,"y":-2020},{"s":"PCA W","x":440,"y":-1910},{"s":"PCA W","x":520,"y":-1650},{"s":"PCA W","x":600,"y":-1420},{"s":"PCA W","x":700,"y":-1170},{"s":"PCA W","x":800,"y":-1000},{"s":"PCA W","x":900,"y":-860},{"s":"PCA W","x":1050,"y":-680},{"s":"PCA W","x":1200,"y":-550},{"s":"PCA W","x":1400,"y":-420},{"s":"PCA W","x":1600,"y":-320},{"s":"PCA W","x":1920,"y":-210},{"s":"PCA W","x":2200,"y":-130},{"s":"PCA W","x":2620,"y":-45},{"s":"PCA W","x":3000,"y":0},{"s":"PCA W","x":3500,"y":40},{"s":"PCA W","x":4360,"y":85},{"s":"PCA W","x":5200,"y":110},{"s":"PCA W","x":6100,"y":128},{"s":"PCA W","x":7000,"y":145},{"s":"PCA W","x":7850,"y":165},{"s":"PCA W","x":9000,"y":180},{"s":"PCA W","x":10000,"y":192},
      {"s":"PCA NWR","x":0,"y":-2800},{"s":"PCA NWR","x":100,"y":-2750},{"s":"PCA NWR","x":200,"y":-2680},{"s":"PCA NWR","x":260,"y":-2600},{"s":"PCA NWR","x":300,"y":-2350},{"s":"PCA NWR","x":330,"y":-1900},{"s":"PCA NWR","x":350,"y":-1500},{"s":"PCA NWR","x":380,"y":-1250},{"s":"PCA NWR","x":410,"y":-1050},{"s":"PCA NWR","x":440,"y":-850},{"s":"PCA NWR","x":480,"y":-620},{"s":"PCA NWR","x":520,"y":-450},{"s":"PCA NWR","x":560,"y":-380},{"s":"PCA NWR","x":600,"y":-300},{"s":"PCA NWR","x":650,"y":-230},{"s":"PCA NWR","x":700,"y":-160},{"s":"PCA NWR","x":750,"y":-200},{"s":"PCA NWR","x":800,"y":-60},{"s":"PCA NWR","x":850,"y":-140},{"s":"PCA NWR","x":900,"y":-10},{"s":"PCA NWR","x":950,"y":-110},{"s":"PCA NWR","x":1000,"y":20},{"s":"PCA NWR","x":1050,"y":-90},
      {"s":"PCA NWR","x":1100,"y":45},{"s":"PCA NWR","x":1150,"y":-80},{"s":"PCA NWR","x":1200,"y":55},{"s":"PCA NWR","x":1250,"y":-70},{"s":"PCA NWR","x":1300,"y":50},{"s":"PCA NWR","x":1350,"y":-90},{"s":"PCA NWR","x":1400,"y":40},{"s":"PCA NWR","x":1450,"y":-75},{"s":"PCA NWR","x":1500,"y":55},{"s":"PCA NWR","x":1550,"y":-80},{"s":"PCA NWR","x":1600,"y":45},{"s":"PCA NWR","x":1650,"y":-70},{"s":"PCA NWR","x":1700,"y":50},{"s":"PCA NWR","x":1750,"y":-95},{"s":"PCA NWR","x":1800,"y":45},{"s":"PCA NWR","x":1850,"y":-80},{"s":"PCA NWR","x":1900,"y":40},{"s":"PCA NWR","x":1950,"y":-75},
      {"s":"PCA NWR","x":2000,"y":60},{"s":"PCA NWR","x":2050,"y":-65},{"s":"PCA NWR","x":2100,"y":70},{"s":"PCA NWR","x":2150,"y":-55},{"s":"PCA NWR","x":2200,"y":65},{"s":"PCA NWR","x":2250,"y":-75},{"s":"PCA NWR","x":2300,"y":55},{"s":"PCA NWR","x":2350,"y":-60},{"s":"PCA NWR","x":2400,"y":70},{"s":"PCA NWR","x":2450,"y":-65},{"s":"PCA NWR","x":2500,"y":60},{"s":"PCA NWR","x":2550,"y":-55},{"s":"PCA NWR","x":2600,"y":65},{"s":"PCA NWR","x":2650,"y":-80},{"s":"PCA NWR","x":2700,"y":60},{"s":"PCA NWR","x":2750,"y":-65},{"s":"PCA NWR","x":2800,"y":55},{"s":"PCA NWR","x":2850,"y":-60},{"s":"PCA NWR","x":2900,"y":70},{"s":"PCA NWR","x":2950,"y":-65},
      {"s":"PCA NWR","x":3000,"y":80},{"s":"PCA NWR","x":3050,"y":-45},{"s":"PCA NWR","x":3100,"y":90},{"s":"PCA NWR","x":3150,"y":-35},{"s":"PCA NWR","x":3200,"y":85},{"s":"PCA NWR","x":3250,"y":-55},{"s":"PCA NWR","x":3300,"y":75},{"s":"PCA NWR","x":3350,"y":-40},{"s":"PCA NWR","x":3400,"y":90},{"s":"PCA NWR","x":3450,"y":-45},{"s":"PCA NWR","x":3500,"y":80},{"s":"PCA NWR","x":3550,"y":-35},{"s":"PCA NWR","x":3600,"y":85},{"s":"PCA NWR","x":3650,"y":-60},{"s":"PCA NWR","x":3700,"y":80},{"s":"PCA NWR","x":3750,"y":-45},{"s":"PCA NWR","x":3800,"y":75},{"s":"PCA NWR","x":3850,"y":-40},{"s":"PCA NWR","x":3900,"y":90},{"s":"PCA NWR","x":3950,"y":-45},
      {"s":"PCA NWR","x":4000,"y":95},{"s":"PCA NWR","x":4050,"y":-30},{"s":"PCA NWR","x":4100,"y":105},{"s":"PCA NWR","x":4150,"y":-20},{"s":"PCA NWR","x":4200,"y":100},{"s":"PCA NWR","x":4250,"y":-40},{"s":"PCA NWR","x":4300,"y":90},{"s":"PCA NWR","x":4350,"y":-25},{"s":"PCA NWR","x":4400,"y":105},{"s":"PCA NWR","x":4450,"y":-30},{"s":"PCA NWR","x":4500,"y":95},{"s":"PCA NWR","x":4550,"y":-20},{"s":"PCA NWR","x":4600,"y":100},{"s":"PCA NWR","x":4650,"y":-45},{"s":"PCA NWR","x":4700,"y":95},{"s":"PCA NWR","x":4750,"y":-30},{"s":"PCA NWR","x":4800,"y":90},{"s":"PCA NWR","x":4850,"y":-25},{"s":"PCA NWR","x":4900,"y":105},{"s":"PCA NWR","x":4950,"y":-30},
      {"s":"PCA NWR","x":5000,"y":105},{"s":"PCA NWR","x":5050,"y":-20},{"s":"PCA NWR","x":5100,"y":115},{"s":"PCA NWR","x":5150,"y":-10},{"s":"PCA NWR","x":5200,"y":110},{"s":"PCA NWR","x":5250,"y":-30},{"s":"PCA NWR","x":5300,"y":100},{"s":"PCA NWR","x":5350,"y":-15},{"s":"PCA NWR","x":5400,"y":115},{"s":"PCA NWR","x":5450,"y":-20},{"s":"PCA NWR","x":5500,"y":105},{"s":"PCA NWR","x":5550,"y":-10},{"s":"PCA NWR","x":5600,"y":110},{"s":"PCA NWR","x":5650,"y":-35},{"s":"PCA NWR","x":5700,"y":105},{"s":"PCA NWR","x":5750,"y":-20},{"s":"PCA NWR","x":5800,"y":100},{"s":"PCA NWR","x":5850,"y":-15},{"s":"PCA NWR","x":5900,"y":115},{"s":"PCA NWR","x":5950,"y":-20},
      {"s":"PCA NWR","x":6000,"y":115},{"s":"PCA NWR","x":6050,"y":-10},{"s":"PCA NWR","x":6100,"y":125},{"s":"PCA NWR","x":6150,"y":0},{"s":"PCA NWR","x":6200,"y":120},{"s":"PCA NWR","x":6250,"y":-20},{"s":"PCA NWR","x":6300,"y":110},{"s":"PCA NWR","x":6350,"y":-5},{"s":"PCA NWR","x":6400,"y":125},{"s":"PCA NWR","x":6450,"y":-10},{"s":"PCA NWR","x":6500,"y":115},{"s":"PCA NWR","x":6550,"y":0},{"s":"PCA NWR","x":6600,"y":120},{"s":"PCA NWR","x":6650,"y":-25},{"s":"PCA NWR","x":6700,"y":115},{"s":"PCA NWR","x":6750,"y":-10},{"s":"PCA NWR","x":6800,"y":110},{"s":"PCA NWR","x":6850,"y":-5},{"s":"PCA NWR","x":6900,"y":125},{"s":"PCA NWR","x":6950,"y":-10},
      {"s":"PCA NWR","x":7000,"y":125},{"s":"PCA NWR","x":7050,"y":0},{"s":"PCA NWR","x":7100,"y":135},{"s":"PCA NWR","x":7150,"y":10},{"s":"PCA NWR","x":7200,"y":130},{"s":"PCA NWR","x":7250,"y":-10},{"s":"PCA NWR","x":7300,"y":120},{"s":"PCA NWR","x":7350,"y":5},{"s":"PCA NWR","x":7400,"y":135},{"s":"PCA NWR","x":7450,"y":0},{"s":"PCA NWR","x":7500,"y":125},{"s":"PCA NWR","x":7550,"y":10},{"s":"PCA NWR","x":7600,"y":130},{"s":"PCA NWR","x":7650,"y":-15},{"s":"PCA NWR","x":7700,"y":125},{"s":"PCA NWR","x":7750,"y":0},{"s":"PCA NWR","x":7800,"y":120},{"s":"PCA NWR","x":7850,"y":5},{"s":"PCA NWR","x":7900,"y":135},{"s":"PCA NWR","x":7950,"y":0},
      {"s":"PCA NWR","x":8000,"y":140},{"s":"PCA NWR","x":8050,"y":-15},{"s":"PCA NWR","x":8100,"y":150},{"s":"PCA NWR","x":8150,"y":-5},{"s":"PCA NWR","x":8200,"y":145},{"s":"PCA NWR","x":8250,"y":-30},{"s":"PCA NWR","x":8300,"y":135},{"s":"PCA NWR","x":8350,"y":-20},{"s":"PCA NWR","x":8400,"y":150},{"s":"PCA NWR","x":8450,"y":-40},{"s":"PCA NWR","x":8500,"y":140},{"s":"PCA NWR","x":8550,"y":-60},{"s":"PCA NWR","x":8600,"y":145},{"s":"PCA NWR","x":8650,"y":-90},{"s":"PCA NWR","x":8700,"y":140},{"s":"PCA NWR","x":8750,"y":-40},{"s":"PCA NWR","x":8800,"y":135},{"s":"PCA NWR","x":8850,"y":-60},{"s":"PCA NWR","x":8900,"y":150},{"s":"PCA NWR","x":8950,"y":-35},
      {"s":"PCA NWR","x":9000,"y":150},{"s":"PCA NWR","x":9050,"y":-30},{"s":"PCA NWR","x":9100,"y":160},{"s":"PCA NWR","x":9150,"y":-50},{"s":"PCA NWR","x":9200,"y":155},{"s":"PCA NWR","x":9250,"y":-80},{"s":"PCA NWR","x":9300,"y":145},{"s":"PCA NWR","x":9350,"y":-30},{"s":"PCA NWR","x":9400,"y":160},{"s":"PCA NWR","x":9450,"y":-50},{"s":"PCA NWR","x":9500,"y":150},{"s":"PCA NWR","x":9550,"y":-70},{"s":"PCA NWR","x":9600,"y":155},{"s":"PCA NWR","x":9650,"y":-40},{"s":"PCA NWR","x":9700,"y":150},{"s":"PCA NWR","x":9750,"y":-60},{"s":"PCA NWR","x":9800,"y":145},{"s":"PCA NWR","x":9850,"y":-45},{"s":"PCA NWR","x":9900,"y":160},{"s":"PCA NWR","x":9950,"y":-70},{"s":"PCA NWR","x":10000,"y":-20}
    ],
    "p6": [
      {"s":"PCA W","x":0,"y":2640},{"s":"PCA W","x":20,"y":2450},{"s":"PCA W","x":50,"y":2250},{"s":"PCA W","x":90,"y":2090},{"s":"PCA W","x":135,"y":1950},{"s":"PCA W","x":200,"y":1790},{"s":"PCA W","x":305,"y":1620},{"s":"PCA W","x":450,"y":1470},{"s":"PCA W","x":640,"y":1354},{"s":"PCA W","x":850,"y":1250},{"s":"PCA W","x":1150,"y":1145},{"s":"PCA W","x":1500,"y":1060},{"s":"PCA W","x":2000,"y":996},{"s":"PCA W","x":2600,"y":920},{"s":"PCA W","x":3350,"y":846},{"s":"PCA W","x":4370,"y":757},{"s":"PCA W","x":5200,"y":700},{"s":"PCA W","x":6060,"y":649},{"s":"PCA W","x":6900,"y":600},{"s":"PCA W","x":7750,"y":560},{"s":"PCA W","x":8800,"y":510},{"s":"PCA W","x":10000,"y":470},
      {"s":"PCA NWR","x":0,"y":1770},{"s":"PCA NWR","x":10,"y":1300},{"s":"PCA NWR","x":25,"y":1000},{"s":"PCA NWR","x":60,"y":900},{"s":"PCA NWR","x":135,"y":816},{"s":"PCA NWR","x":220,"y":727},{"s":"PCA NWR","x":300,"y":780},{"s":"PCA NWR","x":390,"y":846},{"s":"PCA NWR","x":480,"y":880},{"s":"PCA NWR","x":560,"y":906},{"s":"PCA NWR","x":640,"y":876},{"s":"PCA NWR","x":700,"y":870},{"s":"PCA NWR","x":800,"y":830},{"s":"PCA NWR","x":980,"y":787},{"s":"PCA NWR","x":1150,"y":755},{"s":"PCA NWR","x":1320,"y":727},{"s":"PCA NWR","x":1400,"y":710},{"s":"PCA NWR","x":1455,"y":700},{"s":"PCA NWR","x":1490,"y":900},{"s":"PCA NWR","x":1520,"y":1175},{"s":"PCA NWR","x":1550,"y":900},{"s":"PCA NWR","x":1580,"y":800},{"s":"PCA NWR","x":1620,"y":820},{"s":"PCA NWR","x":1650,"y":760},{"s":"PCA NWR","x":1690,"y":876},{"s":"PCA NWR","x":1720,"y":760},{"s":"PCA NWR","x":1760,"y":720},{"s":"PCA NWR","x":1800,"y":780},{"s":"PCA NWR","x":1830,"y":1115},{"s":"PCA NWR","x":1860,"y":800},{"s":"PCA NWR","x":1910,"y":720},{"s":"PCA NWR","x":2000,"y":690},{"s":"PCA NWR","x":2170,"y":667},{"s":"PCA NWR","x":2400,"y":655},{"s":"PCA NWR","x":2670,"y":649},{"s":"PCA NWR","x":2750,"y":660},{"s":"PCA NWR","x":2810,"y":757},{"s":"PCA NWR","x":2850,"y":660},{"s":"PCA NWR","x":3010,"y":640},{"s":"PCA NWR","x":3300,"y":630},{"s":"PCA NWR","x":3600,"y":620},{"s":"PCA NWR","x":3800,"y":625},{"s":"PCA NWR","x":3860,"y":697},{"s":"PCA NWR","x":3900,"y":620},{"s":"PCA NWR","x":4100,"y":610},{"s":"PCA NWR","x":4370,"y":608},{"s":"PCA NWR","x":4800,"y":600},{"s":"PCA NWR","x":5200,"y":598},{"s":"PCA NWR","x":5600,"y":595},{"s":"PCA NWR","x":6060,"y":590},{"s":"PCA NWR","x":6500,"y":585},{"s":"PCA NWR","x":6900,"y":590},{"s":"PCA NWR","x":7200,"y":585},{"s":"PCA NWR","x":7350,"y":620},{"s":"PCA NWR","x":7410,"y":608},{"s":"PCA NWR","x":7500,"y":585},{"s":"PCA NWR","x":7700,"y":590},{"s":"PCA NWR","x":7850,"y":580},{"s":"PCA NWR","x":7920,"y":620},{"s":"PCA NWR","x":8000,"y":580},{"s":"PCA NWR","x":8090,"y":640},{"s":"PCA NWR","x":8200,"y":600},{"s":"PCA NWR","x":8300,"y":620},{"s":"PCA NWR","x":8430,"y":697},{"s":"PCA NWR","x":8500,"y":800},{"s":"PCA NWR","x":8540,"y":1200},{"s":"PCA NWR","x":8560,"y":1545},{"s":"PCA NWR","x":8600,"y":900},{"s":"PCA NWR","x":8680,"y":757},{"s":"PCA NWR","x":8720,"y":700},{"s":"PCA NWR","x":8760,"y":876},{"s":"PCA NWR","x":8800,"y":720},{"s":"PCA NWR","x":8930,"y":680},{"s":"PCA NWR","x":9050,"y":650},{"s":"PCA NWR","x":9150,"y":700},{"s":"PCA NWR","x":9270,"y":846},{"s":"PCA NWR","x":9320,"y":700},{"s":"PCA NWR","x":9440,"y":680},{"s":"PCA NWR","x":9500,"y":640},{"s":"PCA NWR","x":9640,"y":620},{"s":"PCA NWR","x":9700,"y":650},{"s":"PCA NWR","x":9800,"y":600},{"s":"PCA NWR","x":9860,"y":787},{"s":"PCA NWR","x":9900,"y":640},{"s":"PCA NWR","x":10000,"y":637}
    ]
  },
  "concat": [
    {
      "width": 211, "height": 132,
      "data": {"name": "p1"},
      "encoding": {
        "x": {"field": "x", "type": "quantitative", "scale": {"domain": [-500, 10500], "nice": false, "zero": false}, "axis": {"values": [0, 2000, 4000, 6000, 8000, 10000], "format": "d", "title": "Epoch"}},
        "y": {"field": "y", "type": "quantitative", "scale": {"domain": [-5680, 170], "nice": false, "zero": false}, "axis": {"values": [-5000, -4000, -3000, -2000, -1000, 0], "format": "d", "title": "ELBO"}},
        "color": {"field": "s", "type": "nominal", "scale": {"domain": ["PCA W", "PCA NWR"], "range": ["#ff7f0e", "#1f77b4"]}, "legend": null},
        "strokeDash": {"field": "s", "type": "nominal", "scale": {"domain": ["PCA W", "PCA NWR"], "range": [[1, 0], [4, 1.6]]}, "legend": null}
      },
      "layer": [
        {"transform": [{"filter": "datum.s == 'PCA W'"}], "mark": {"type": "line", "strokeWidth": 2.2}},
        {"transform": [{"filter": "datum.s == 'PCA NWR'"}], "mark": {"type": "line", "strokeWidth": 1.3}}
      ]
    },
    {
      "width": 211, "height": 132,
      "data": {"name": "p2"},
      "title": {"text": "(a) Optimization curves for unnormalized data", "orient": "bottom", "anchor": "middle", "frame": "group", "dx": -16.5, "offset": 24, "font": "Liberation Serif", "fontSize": 21.5, "fontWeight": "normal", "color": "#111"},
      "encoding": {
        "x": {"field": "x", "type": "quantitative", "scale": {"domain": [-500, 10500], "nice": false, "zero": false}, "axis": {"values": [0, 2000, 4000, 6000, 8000, 10000], "format": "d", "title": "Epoch"}},
        "y": {"field": "y", "type": "quantitative", "scale": {"domain": [-2945, 390], "nice": false, "zero": false}, "axis": {"values": [-2500, -2000, -1500, -1000, -500, 0], "format": "d", "title": "Expected Log Likelihood"}},
        "color": {"field": "s", "type": "nominal", "scale": {"domain": ["PCA W", "PCA NWR"], "range": ["#ff7f0e", "#1f77b4"]}, "legend": {"title": null}},
        "strokeDash": {"field": "s", "type": "nominal", "scale": {"domain": ["PCA W", "PCA NWR"], "range": [[1, 0], [4, 1.6]]}, "legend": {"title": null}}
      },
      "layer": [
        {"transform": [{"filter": "datum.s == 'PCA W'"}], "mark": {"type": "line", "strokeWidth": 2.4}},
        {"transform": [{"filter": "datum.s == 'PCA NWR'"}], "mark": {"type": "line", "strokeWidth": 1.3}}
      ]
    },
    {
      "width": 217, "height": 132,
      "data": {"name": "p3"},
      "encoding": {
        "x": {"field": "x", "type": "quantitative", "scale": {"domain": [-500, 10500], "nice": false, "zero": false}, "axis": {"values": [0, 2000, 4000, 6000, 8000, 10000], "format": "d", "title": "Epoch"}},
        "y": {"field": "y", "type": "quantitative", "scale": {"domain": [165, 2748], "nice": false, "zero": false}, "axis": {"values": [500, 1000, 1500, 2000, 2500], "format": "d", "title": "KL Divergence"}},
        "color": {"field": "s", "type": "nominal", "scale": {"domain": ["PCA W", "PCA NWR"], "range": ["#ff7f0e", "#1f77b4"]}, "legend": null},
        "strokeDash": {"field": "s", "type": "nominal", "scale": {"domain": ["PCA W", "PCA NWR"], "range": [[1, 0], [4, 1.8]]}, "legend": null}
      },
      "layer": [
        {"transform": [{"filter": "datum.s == 'PCA W'"}], "mark": {"type": "line", "strokeWidth": 1.4}},
        {"transform": [{"filter": "datum.s == 'PCA NWR'"}], "mark": {"type": "line", "strokeWidth": 1.3}}
      ]
    },
    {
      "width": 211, "height": 133,
      "data": {"name": "p4"},
      "encoding": {
        "x": {"field": "x", "type": "quantitative", "scale": {"domain": [-500, 10500], "nice": false, "zero": false}, "axis": {"values": [0, 2000, 4000, 6000, 8000, 10000], "format": "d", "title": "Epoch"}},
        "y": {"field": "y", "type": "quantitative", "scale": {"domain": [-5700, -5], "nice": false, "zero": false}, "axis": {"values": [-5000, -4000, -3000, -2000, -1000], "format": "d", "title": "ELBO"}},
        "color": {"field": "s", "type": "nominal", "scale": {"domain": ["PCA W", "PCA NWR"], "range": ["#ff7f0e", "#1f77b4"]}, "legend": null},
        "strokeDash": {"field": "s", "type": "nominal", "scale": {"domain": ["PCA W", "PCA NWR"], "range": [[1, 0], [4, 1.6]]}, "legend": null}
      },
      "layer": [
        {"transform": [{"filter": "datum.s == 'PCA W'"}], "mark": {"type": "line", "strokeWidth": 2.2}},
        {"transform": [{"filter": "datum.s == 'PCA NWR'"}], "mark": {"type": "line", "strokeWidth": 1.3}}
      ]
    },
    {
      "width": 211, "height": 133,
      "data": {"name": "p5"},
      "title": {"text": "(b) Optimization curves for normalized data", "orient": "bottom", "anchor": "middle", "frame": "group", "dx": -16.5, "offset": 24, "font": "Liberation Serif", "fontSize": 21.5, "fontWeight": "normal", "color": "#111"},
      "encoding": {
        "x": {"field": "x", "type": "quantitative", "scale": {"domain": [-500, 10500], "nice": false, "zero": false}, "axis": {"values": [0, 2000, 4000, 6000, 8000, 10000], "format": "d", "title": "Epoch"}},
        "y": {"field": "y", "type": "quantitative", "scale": {"domain": [-2960, 360], "nice": false, "zero": false}, "axis": {"values": [-2500, -2000, -1500, -1000, -500, 0], "format": "d", "title": "Expected Log Likelihood"}},
        "color": {"field": "s", "type": "nominal", "scale": {"domain": ["PCA W", "PCA NWR"], "range": ["#ff7f0e", "#1f77b4"]}, "legend": {"title": null}},
        "strokeDash": {"field": "s", "type": "nominal", "scale": {"domain": ["PCA W", "PCA NWR"], "range": [[1, 0], [4, 1.6]]}, "legend": {"title": null}}
      },
      "layer": [
        {"transform": [{"filter": "datum.s == 'PCA W'"}], "mark": {"type": "line", "strokeWidth": 2.4}},
        {"transform": [{"filter": "datum.s == 'PCA NWR'"}], "mark": {"type": "line", "strokeWidth": 1.3}}
      ]
    },
    {
      "width": 217, "height": 133,
      "data": {"name": "p6"},
      "encoding": {
        "x": {"field": "x", "type": "quantitative", "scale": {"domain": [-500, 10500], "nice": false, "zero": false}, "axis": {"values": [0, 2000, 4000, 6000, 8000, 10000], "format": "d", "title": "Epoch"}},
        "y": {"field": "y", "type": "quantitative", "scale": {"domain": [362, 2748], "nice": false, "zero": false}, "axis": {"values": [500, 1000, 1500, 2000, 2500], "format": "d", "title": "KL Divergence"}},
        "color": {"field": "s", "type": "nominal", "scale": {"domain": ["PCA W", "PCA NWR"], "range": ["#ff7f0e", "#1f77b4"]}, "legend": null},
        "strokeDash": {"field": "s", "type": "nominal", "scale": {"domain": ["PCA W", "PCA NWR"], "range": [[1, 0], [4, 1.8]]}, "legend": null}
      },
      "layer": [
        {"transform": [{"filter": "datum.s == 'PCA W'"}], "mark": {"type": "line", "strokeWidth": 1.4}},
        {"transform": [{"filter": "datum.s == 'PCA NWR'"}], "mark": {"type": "line", "strokeWidth": 1.3}}
      ]
    }
  ]
}
